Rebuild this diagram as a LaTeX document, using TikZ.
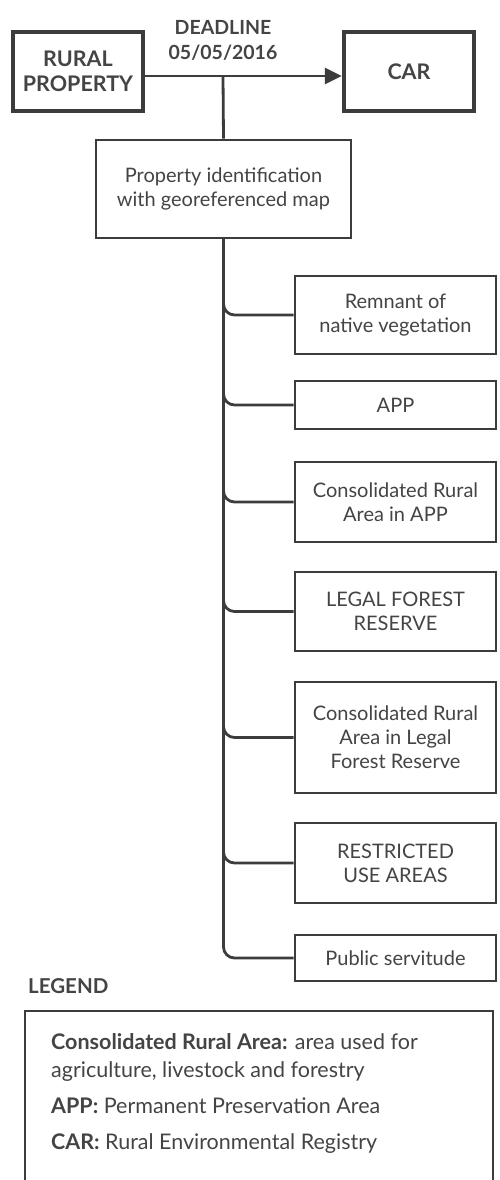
\documentclass[tikz,border=0pt]{standalone}
\usepackage{fontspec}
\setmainfont{Lato}
\usetikzlibrary{arrows.meta}
\definecolor{ln}{HTML}{3C3C3C}
\definecolor{tx}{HTML}{444444}
\tikzset{
  thickbox/.style={draw=ln, line width=4.5pt, fill=white, text=tx, align=center, font=\bfseries\fontsize{21.5}{25}\selectfont, inner sep=0pt},
  itembox/.style={draw=ln, line width=2.8pt, fill=white, text=tx, align=center, font=\fontsize{20}{24}\selectfont, inner sep=0pt},
  conn/.style={draw=ln, line width=2.8pt},
  branch/.style={draw=ln, line width=2.8pt, rounded corners=11pt},
  lgtext/.style={anchor=base west, text=tx, font=\fontsize{21.5}{24}\selectfont, inner sep=0pt}
}
\begin{document}
\begin{tikzpicture}[x=1pt,y=-1pt]
\useasboundingbox (0,0) rectangle (499,1180);
% top row
\node[thickbox, minimum width=130pt, minimum height=79pt] (rural) at (78,71.5) {RURAL\\PROPERTY};
\node[thickbox, minimum width=130pt, minimum height=79pt] (car) at (409,71.5) {CAR};
\node[text=tx, align=center, font=\bfseries\fontsize{19.5}{25}\selectfont, inner sep=0pt] (dl) at (223,40) {DEADLINE\\05/05/2016};
\coordinate (j) at (223,76);
% main identification box
\node[itembox, minimum width=255pt, minimum height=98pt] (ident) at (223.5,189) {Property identification\\with georeferenced map};
\draw[conn, -{Triangle[length=17pt,width=16pt]}] (rural.east |- j) -- (car.west |- j);
\draw[conn] (j) -- (ident.north);
% children
\node[itembox, minimum width=201pt, minimum height=78pt] (rem) at (395.5,315) {Remnant of\\native vegetation};
\node[itembox, minimum width=201pt, minimum height=48pt] (app) at (395.5,405) {APP};
\node[itembox, minimum width=201pt, minimum height=80pt] (crapp) at (395.5,502) {Consolidated Rural\\Area in APP};
\node[itembox, minimum width=201pt, minimum height=79pt] (legal) at (395.5,611.5) {LEGAL FOREST\\RESERVE};
\node[itembox, minimum width=201pt, minimum height=111pt] (crlegal) at (395.5,737.5) {Consolidated Rural\\Area in Legal\\Forest Reserve};
\node[itembox, minimum width=201pt, minimum height=80pt] (restr) at (395.5,863) {RESTRICTED\\USE AREAS};
\node[itembox, minimum width=201pt, minimum height=46pt] (pub) at (395.5,958) {Public servitude};
\foreach \c in {rem,app,crapp,legal,crlegal,restr,pub}
  \draw[branch] (ident.south) |- (\c.west);
% legend
\node[anchor=base west, text=tx, font=\bfseries\fontsize{20.5}{22}\selectfont, inner sep=0pt] (lg) at (28,993) {LEGEND};
\draw[draw=ln, line width=2.8pt] (25,1200) -- (25,1011) -- (493,1011) -- (493,1200);
\node[lgtext] (l1) at (51,1049) {\textbf{Consolidated Rural Area:} area used for};
\node[lgtext] (l2) at (51,1077) {agriculture, livestock and forestry};
\node[lgtext] (l3) at (51,1113) {\textbf{APP:} Permanent Preservation Area};
\node[lgtext] (l4) at (51,1149) {\textbf{CAR:} Rural Environmental Registry};
\end{tikzpicture}
\end{document}
